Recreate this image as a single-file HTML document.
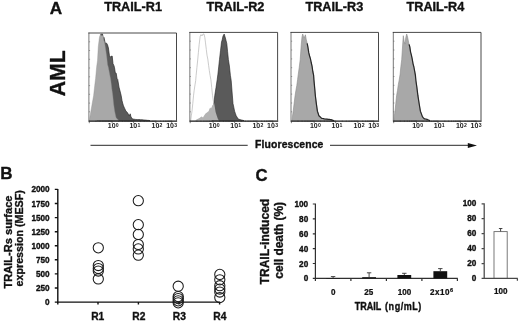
<!DOCTYPE html>
<html><head><meta charset="utf-8"><title>Figure</title>
<style>
html,body{margin:0;padding:0;background:#fff}
svg{display:block}
text{font-family:"Liberation Sans",sans-serif;fill:#111}
.b{font-weight:bold;stroke:#111;stroke-width:0.35px;stroke-linejoin:round}
.c{font-weight:bold;stroke:#111;stroke-width:0.25px}
.tk{font-size:6.3px;font-weight:bold;fill:#222}
</style></head><body>
<svg width="520" height="321" viewBox="0 0 520 321">
<rect width="520" height="321" fill="#fff"/>
<polygon points="97.0,120.6 98.0,89.6 99.0,60.6 99.9,44.6 100.8,34.0 101.7,34.2 102.5,34.0 103.2,38.3 104.0,37.4 105.2,43.2 106.6,43.2 107.5,44.8 108.4,48.0 109.4,55.5 110.8,57.4 111.5,56.0 112.2,56.1 113.0,63.8 113.8,65.3 114.5,67.6 115.3,73.0 116.2,73.2 117.0,78.4 117.7,79.4 119.0,87.2 120.0,91.0 121.1,95.3 122.0,100.5 122.6,103.0 123.3,105.3 124.0,107.1 124.9,108.9 125.8,111.0 126.7,111.7 127.5,112.8 128.4,114.3 129.4,115.9 130.2,113.8 131.0,117.0 131.8,118.0 132.5,119.0 133.2,119.1 133.9,119.2 134.6,119.3 135.3,119.4 136.0,119.5 136.8,119.5 137.5,119.6 138.2,119.6 139.0,119.6 139.8,119.6 140.5,119.7 141.2,119.7 142.0,119.7 142.7,119.8 143.5,119.9 144.2,120.0 144.9,120.0 145.6,120.1 146.4,120.2 147.1,120.3 147.8,120.4 148.5,120.4 149.3,120.5 150.0,120.6" fill="#5a5a5a" stroke="#2a2a2a" stroke-width="0.7" stroke-linejoin="round"/>
<polygon points="89.5,120.6 89.9,117.1 90.9,111.3 92.3,103.0 93.6,95.8 94.8,85.1 95.6,78.5 96.7,66.5 97.5,60.8 98.3,46.5 99.5,36.9 100.6,34.0 101.8,35.9 103.0,35.6 103.8,40.6 104.5,42.1 105.8,50.4 106.8,57.6 107.5,64.5 108.2,66.8 109.6,74.0 110.7,79.7 111.8,88.7 112.7,95.0 113.6,103.9 114.6,111.0 115.3,114.3 116.0,117.5 117.2,119.0 118.1,119.8 119.0,120.6" fill="#a8a8a8" stroke="#8f8f8f" stroke-width="0.4"/>
<path d="M88.90 120.6V32.6" fill="none" stroke="#777" stroke-width="1"/>
<path d="M88.40 33.0H176.50V120.6" fill="none" stroke="#333" stroke-width="0.9"/>
<path d="M88.5 121.1H177.1" fill="none" stroke="#161616" stroke-width="1.25"/>
<path d="M95.9 120.6v1.4M100.0 120.6v1.4M102.9 120.6v1.4M105.1 120.6v1.4M107.0 120.6v1.4M108.5 120.6v1.4M109.9 120.6v1.4M111.1 120.6v1.4M118.6 120.6v1.4M122.4 120.6v1.4M125.0 120.6v1.4M127.1 120.6v1.4M128.8 120.6v1.4M130.3 120.6v1.4M131.5 120.6v1.4M132.6 120.6v1.4M140.3 120.6v1.4M144.2 120.6v1.4M147.0 120.6v1.4M149.2 120.6v1.4M151.0 120.6v1.4M152.5 120.6v1.4M153.7 120.6v1.4M154.9 120.6v1.4M160.7 120.6v1.4M163.4 120.6v1.4M165.4 120.6v1.4M166.9 120.6v1.4M168.2 120.6v1.4M169.2 120.6v1.4M170.2 120.6v1.4M171.0 120.6v1.4M112.1 120.6v2.6M133.6 120.6v2.6M155.9 120.6v2.6M171.7 120.6v2.6M89.3 120.6v2.6" stroke="#333" stroke-width="0.6" fill="none"/>
<path d="M88.9 111.8h1.2M88.9 103.1h1.2M88.9 94.3h1.2M88.9 85.6h1.2M88.9 76.8h1.2M88.9 68.0h1.2M88.9 59.3h1.2M88.9 50.5h1.2M88.9 41.8h1.2" stroke="#555" stroke-width="0.5" fill="none"/>
<text transform="translate(107.8 127.8) scale(1.12 1)" class="tk">10<tspan dy="-1.0" dx="0.2" font-size="4.6">0</tspan></text>
<text transform="translate(129.4 127.8) scale(1.12 1)" class="tk">10<tspan dy="-1.0" dx="0.2" font-size="4.6">1</tspan></text>
<text transform="translate(151.5 127.8) scale(1.12 1)" class="tk">10<tspan dy="-1.0" dx="0.2" font-size="4.6">2</tspan></text>
<text transform="translate(166.2 127.8) scale(1.12 1)" class="tk">10<tspan dy="-1.0" dx="0.2" font-size="4.6">3</tspan></text>
<polygon points="212.0,120.6 213.0,112.1 213.8,104.3 214.8,95.3 216.0,87.6 217.2,79.6 217.9,74.2 218.7,66.9 219.5,59.4 220.5,50.7 221.5,42.1 222.2,39.8 223.0,36.1 224.2,34.0 225.4,38.0 226.1,40.7 226.8,43.6 227.6,51.7 228.4,59.6 229.4,66.0 230.4,75.4 231.2,80.5 232.4,96.0 233.0,103.6 233.8,107.2 234.6,111.2 235.4,113.4 236.2,115.8 237.2,117.3 238.2,119.0 239.1,119.3 240.0,119.6 240.8,119.8 241.6,120.0 242.4,120.2 243.2,120.4 244.0,120.6" fill="#5a5a5a" stroke="#222" stroke-width="0.6" stroke-linejoin="round"/>
<polygon points="194.6,120.6 195.4,120.2 196.2,119.7 197.0,119.3 198.0,118.8 199.0,118.3 199.9,117.7 200.7,117.1 201.6,116.4 202.3,117.1 203.0,117.5 203.8,116.1 204.5,115.0 205.3,113.8 206.2,113.0 207.0,112.6 207.8,111.7 208.6,111.3 209.4,109.0 210.2,107.6 211.0,108.4 211.8,106.7 212.5,104.9 213.2,104.7 214.0,102.1 214.8,107.1 215.6,111.9 216.8,115.8 217.9,119.1 219.0,120.6" fill="#b3b3b3"/>
<polyline points="190.7,120.6 191.3,115.9 192.0,111.1 192.8,103.3 193.5,95.9 194.2,90.2 195.0,84.8 195.7,80.5 196.1,75.6 196.9,67.7 197.7,60.0 198.4,52.3 199.2,44.3 200.2,36.1 201.0,34.6 202.0,36.0 203.0,34.0 204.0,34.0 204.8,37.3 205.5,42.9 206.3,49.4 207.0,55.2 207.8,59.1 208.6,65.3 209.3,70.5 210.1,75.5 210.9,79.8 211.7,87.4 212.5,95.3 213.5,101.8" fill="none" stroke="#b5b5b5" stroke-width="0.7"/>
<path d="M189.85 120.6V32.0" fill="none" stroke="#777" stroke-width="1"/>
<path d="M189.35 32.4H277.60V120.6" fill="none" stroke="#333" stroke-width="0.9"/>
<path d="M189.4 121.1H278.2" fill="none" stroke="#161616" stroke-width="1.25"/>
<path d="M196.9 120.6v1.4M200.9 120.6v1.4M203.9 120.6v1.4M206.1 120.6v1.4M207.9 120.6v1.4M209.5 120.6v1.4M210.9 120.6v1.4M212.0 120.6v1.4M219.6 120.6v1.4M223.4 120.6v1.4M226.0 120.6v1.4M228.1 120.6v1.4M229.8 120.6v1.4M231.3 120.6v1.4M232.5 120.6v1.4M233.6 120.6v1.4M241.3 120.6v1.4M245.3 120.6v1.4M248.1 120.6v1.4M250.2 120.6v1.4M252.0 120.6v1.4M253.5 120.6v1.4M254.8 120.6v1.4M256.0 120.6v1.4M261.7 120.6v1.4M264.5 120.6v1.4M266.5 120.6v1.4M268.0 120.6v1.4M269.3 120.6v1.4M270.3 120.6v1.4M271.2 120.6v1.4M272.1 120.6v1.4M213.1 120.6v2.6M234.6 120.6v2.6M257.0 120.6v2.6M272.8 120.6v2.6M190.2 120.6v2.6" stroke="#333" stroke-width="0.6" fill="none"/>
<path d="M189.8 111.8h1.2M189.8 103.0h1.2M189.8 94.1h1.2M189.8 85.3h1.2M189.8 76.5h1.2M189.8 67.7h1.2M189.8 58.9h1.2M189.8 50.0h1.2M189.8 41.2h1.2" stroke="#555" stroke-width="0.5" fill="none"/>
<text transform="translate(208.8 127.8) scale(1.12 1)" class="tk">10<tspan dy="-1.0" dx="0.2" font-size="4.6">0</tspan></text>
<text transform="translate(230.3 127.8) scale(1.12 1)" class="tk">10<tspan dy="-1.0" dx="0.2" font-size="4.6">1</tspan></text>
<text transform="translate(252.4 127.8) scale(1.12 1)" class="tk">10<tspan dy="-1.0" dx="0.2" font-size="4.6">2</tspan></text>
<text transform="translate(267.1 127.8) scale(1.12 1)" class="tk">10<tspan dy="-1.0" dx="0.2" font-size="4.6">3</tspan></text>
<polygon points="292.0,120.6 292.5,116.0 293.2,111.3 294.1,103.6 295.1,95.6 295.9,90.5 296.8,85.5 297.6,79.5 298.2,74.9 299.2,67.6 300.2,59.7 301.3,44.2 302.0,36.9 302.7,34.0 303.6,36.7 304.3,37.6 305.4,34.8 306.2,39.2 307.2,43.4 307.9,47.6 308.7,52.9 309.5,56.0 310.4,58.6 311.2,62.5 312.0,66.4 312.8,71.5 313.5,75.1 313.9,79.6 314.6,88.1 315.3,96.0 316.4,104.1 317.4,111.2 318.1,113.5 318.9,115.7 319.7,116.5 320.5,117.4 321.3,118.2 322.0,118.4 322.8,118.5 323.5,118.7 324.3,118.9 325.0,119.0 325.7,119.1 326.4,119.1 327.1,119.2 327.9,119.3 328.6,119.4 329.3,119.4 330.0,119.5 330.8,119.7 331.6,119.9 332.4,120.2 333.2,120.4 334.0,120.6" fill="#a8a8a8" stroke="#8a8a8a" stroke-width="0.6"/>
<polyline points="307.2,43.4 308.0,47.6 308.8,52.9 309.6,56.0 310.4,58.6 311.2,62.5 312.1,66.4 312.8,71.5 313.6,75.1 313.9,79.6 314.7,88.1 315.4,96.0 316.4,104.1 317.4,111.2 318.2,113.5 318.9,115.7 319.8,116.5 320.6,117.4 321.4,118.2 322.1,118.4 322.8,118.5 323.6,118.7 324.3,118.9 325.1,119.0 325.8,119.1 326.5,119.1 327.2,119.2 327.9,119.3 328.6,119.4 329.3,119.4 330.1,119.5 330.9,119.7 331.7,119.9 332.4,120.2 333.2,120.4 334.1,120.6" fill="none" stroke="#262626" stroke-width="1.2" stroke-linejoin="round"/>
<path d="M291.00 120.6V32.0" fill="none" stroke="#777" stroke-width="1"/>
<path d="M290.50 32.4H378.50V120.6" fill="none" stroke="#333" stroke-width="0.9"/>
<path d="M290.6 121.1H379.1" fill="none" stroke="#161616" stroke-width="1.25"/>
<path d="M298.0 120.6v1.4M302.1 120.6v1.4M305.0 120.6v1.4M307.2 120.6v1.4M309.0 120.6v1.4M310.6 120.6v1.4M311.9 120.6v1.4M313.1 120.6v1.4M320.6 120.6v1.4M324.4 120.6v1.4M327.1 120.6v1.4M329.2 120.6v1.4M330.9 120.6v1.4M332.3 120.6v1.4M333.5 120.6v1.4M334.6 120.6v1.4M342.3 120.6v1.4M346.3 120.6v1.4M349.1 120.6v1.4M351.2 120.6v1.4M353.0 120.6v1.4M354.5 120.6v1.4M355.8 120.6v1.4M356.9 120.6v1.4M362.7 120.6v1.4M365.5 120.6v1.4M367.4 120.6v1.4M368.9 120.6v1.4M370.2 120.6v1.4M371.2 120.6v1.4M372.2 120.6v1.4M373.0 120.6v1.4M314.2 120.6v2.6M335.6 120.6v2.6M357.9 120.6v2.6M373.7 120.6v2.6M291.4 120.6v2.6" stroke="#333" stroke-width="0.6" fill="none"/>
<path d="M291.0 111.8h1.2M291.0 103.0h1.2M291.0 94.1h1.2M291.0 85.3h1.2M291.0 76.5h1.2M291.0 67.7h1.2M291.0 58.9h1.2M291.0 50.0h1.2M291.0 41.2h1.2" stroke="#555" stroke-width="0.5" fill="none"/>
<text transform="translate(309.9 127.8) scale(1.12 1)" class="tk">10<tspan dy="-1.0" dx="0.2" font-size="4.6">0</tspan></text>
<text transform="translate(331.5 127.8) scale(1.12 1)" class="tk">10<tspan dy="-1.0" dx="0.2" font-size="4.6">1</tspan></text>
<text transform="translate(353.6 127.8) scale(1.12 1)" class="tk">10<tspan dy="-1.0" dx="0.2" font-size="4.6">2</tspan></text>
<text transform="translate(368.3 127.8) scale(1.12 1)" class="tk">10<tspan dy="-1.0" dx="0.2" font-size="4.6">3</tspan></text>
<polygon points="393.9,120.6 394.3,116.0 395.0,111.3 395.8,103.4 396.6,95.6 397.5,90.4 398.3,84.7 399.2,79.9 400.1,74.3 400.9,66.2 401.7,59.8 402.8,42.8 403.3,35.7 404.2,41.5 405.0,44.1 405.8,37.6 406.7,34.0 407.6,37.1 409.0,44.3 409.8,46.9 410.5,52.1 411.3,55.1 412.1,58.8 413.0,63.6 413.8,67.0 414.6,70.9 415.3,75.1 415.8,80.5 416.9,87.7 417.9,95.7 419.2,104.0 420.4,111.2 421.4,113.9 422.3,116.6 423.1,117.6 424.0,118.6 424.8,118.8 425.5,119.0 426.2,119.2 427.0,119.4 427.8,119.7 428.5,120.0 429.2,120.3 430.0,120.6" fill="#a8a8a8" stroke="#8a8a8a" stroke-width="0.6"/>
<polyline points="409.1,44.3 409.8,46.9 410.6,52.1 411.4,55.1 412.2,58.8 413.0,63.6 413.9,67.0 414.6,70.9 415.4,75.1 415.9,80.5 416.9,87.7 417.9,95.7 419.2,104.0 420.4,111.2 421.4,113.9 422.4,116.6 423.2,117.6 424.1,118.6 424.8,118.8 425.6,119.0 426.3,119.2 427.1,119.4 427.8,119.7 428.6,120.0 429.3,120.3 430.1,120.6" fill="none" stroke="#262626" stroke-width="1.2" stroke-linejoin="round"/>
<path d="M393.30 120.6V32.0" fill="none" stroke="#777" stroke-width="1"/>
<path d="M392.80 32.4H481.00V120.6" fill="none" stroke="#333" stroke-width="0.9"/>
<path d="M392.9 121.1H481.6" fill="none" stroke="#161616" stroke-width="1.25"/>
<path d="M400.3 120.6v1.4M404.4 120.6v1.4M407.3 120.6v1.4M409.5 120.6v1.4M411.4 120.6v1.4M412.9 120.6v1.4M414.3 120.6v1.4M415.5 120.6v1.4M423.0 120.6v1.4M426.8 120.6v1.4M429.5 120.6v1.4M431.6 120.6v1.4M433.3 120.6v1.4M434.7 120.6v1.4M435.9 120.6v1.4M437.0 120.6v1.4M444.8 120.6v1.4M448.7 120.6v1.4M451.5 120.6v1.4M453.7 120.6v1.4M455.4 120.6v1.4M456.9 120.6v1.4M458.2 120.6v1.4M459.4 120.6v1.4M465.1 120.6v1.4M467.9 120.6v1.4M469.9 120.6v1.4M471.4 120.6v1.4M472.7 120.6v1.4M473.7 120.6v1.4M474.6 120.6v1.4M475.5 120.6v1.4M416.5 120.6v2.6M438.0 120.6v2.6M460.4 120.6v2.6M476.2 120.6v2.6M393.7 120.6v2.6" stroke="#333" stroke-width="0.6" fill="none"/>
<path d="M393.3 111.8h1.2M393.3 103.0h1.2M393.3 94.1h1.2M393.3 85.3h1.2M393.3 76.5h1.2M393.3 67.7h1.2M393.3 58.9h1.2M393.3 50.0h1.2M393.3 41.2h1.2" stroke="#555" stroke-width="0.5" fill="none"/>
<text transform="translate(412.2 127.8) scale(1.12 1)" class="tk">10<tspan dy="-1.0" dx="0.2" font-size="4.6">0</tspan></text>
<text transform="translate(433.8 127.8) scale(1.12 1)" class="tk">10<tspan dy="-1.0" dx="0.2" font-size="4.6">1</tspan></text>
<text transform="translate(455.9 127.8) scale(1.12 1)" class="tk">10<tspan dy="-1.0" dx="0.2" font-size="4.6">2</tspan></text>
<text transform="translate(470.6 127.8) scale(1.12 1)" class="tk">10<tspan dy="-1.0" dx="0.2" font-size="4.6">3</tspan></text>
<text x="49.8" y="14.0" class="b" font-size="17.2">A</text>
<text x="133.1" y="10.6" class="b" font-size="12.7" text-anchor="middle">TRAIL-R1</text>
<text x="235.5" y="10.6" class="b" font-size="12.7" text-anchor="middle">TRAIL-R2</text>
<text x="334.3" y="10.6" class="b" font-size="12.7" text-anchor="middle">TRAIL-R3</text>
<text x="435.4" y="10.6" class="b" font-size="12.7" text-anchor="middle">TRAIL-R4</text>
<text transform="translate(65.3 73.2) rotate(-90)" class="b" font-size="21.3" text-anchor="middle">AML</text>
<path d="M90.5 145.3H247.7M330 145.3H470" stroke="#111" stroke-width="0.9" fill="none"/>
<path d="M477 145.5L467.8 142.9V148.1Z" fill="#111"/>
<text x="289.3" y="148.1" class="b" font-size="10.4" letter-spacing="0.12" text-anchor="middle">Fluorescence</text>
<text x="0.3" y="179.1" class="b" font-size="17">B</text>
<path d="M57.8 189.0V302.1H220M57.8 302.1h-3M57.8 288.0h-3M57.8 273.9h-3M57.8 259.8h-3M57.8 245.8h-3M57.8 231.7h-3M57.8 217.6h-3M57.8 203.5h-3M57.8 189.4h-3M57.8 302.1v2.4M98.0 302.1v2.4M138.4 302.1v2.4M179.0 302.1v2.4M219.6 302.1v2.4" stroke="#111" stroke-width="1.4" fill="none"/>
<text x="49.6" y="305.1" class="b" font-size="8.2" text-anchor="end">0</text>
<text x="49.6" y="291.0" class="b" font-size="8.2" text-anchor="end">250</text>
<text x="49.6" y="276.9" class="b" font-size="8.2" text-anchor="end">500</text>
<text x="49.6" y="262.8" class="b" font-size="8.2" text-anchor="end">750</text>
<text x="49.6" y="248.8" class="b" font-size="8.2" text-anchor="end">1000</text>
<text x="49.6" y="234.7" class="b" font-size="8.2" text-anchor="end">1250</text>
<text x="49.6" y="220.6" class="b" font-size="8.2" text-anchor="end">1500</text>
<text x="49.6" y="206.5" class="b" font-size="8.2" text-anchor="end">1750</text>
<text x="49.6" y="192.4" class="b" font-size="8.2" text-anchor="end">2000</text>
<circle cx="98.3" cy="247.8" r="5.1" fill="none" stroke="#1c1c1c" stroke-width="1.05"/>
<circle cx="98.3" cy="265.5" r="5.1" fill="none" stroke="#1c1c1c" stroke-width="1.05"/>
<circle cx="98.3" cy="268.5" r="5.1" fill="none" stroke="#1c1c1c" stroke-width="1.05"/>
<circle cx="98.3" cy="271.0" r="5.1" fill="none" stroke="#1c1c1c" stroke-width="1.05"/>
<circle cx="98.3" cy="278.9" r="5.1" fill="none" stroke="#1c1c1c" stroke-width="1.05"/>
<circle cx="138.3" cy="200.7" r="5.1" fill="none" stroke="#1c1c1c" stroke-width="1.05"/>
<circle cx="138.3" cy="224.7" r="5.1" fill="none" stroke="#1c1c1c" stroke-width="1.05"/>
<circle cx="138.3" cy="234.4" r="5.1" fill="none" stroke="#1c1c1c" stroke-width="1.05"/>
<circle cx="138.3" cy="244.5" r="5.1" fill="none" stroke="#1c1c1c" stroke-width="1.05"/>
<circle cx="138.3" cy="248.9" r="5.1" fill="none" stroke="#1c1c1c" stroke-width="1.05"/>
<circle cx="138.3" cy="255.2" r="5.1" fill="none" stroke="#1c1c1c" stroke-width="1.05"/>
<circle cx="178.2" cy="286.2" r="5.1" fill="none" stroke="#1c1c1c" stroke-width="1.05"/>
<circle cx="178.2" cy="296.6" r="5.1" fill="none" stroke="#1c1c1c" stroke-width="1.05"/>
<circle cx="178.2" cy="298.6" r="5.1" fill="none" stroke="#1c1c1c" stroke-width="1.05"/>
<circle cx="178.2" cy="300.8" r="5.1" fill="none" stroke="#1c1c1c" stroke-width="1.05"/>
<circle cx="178.2" cy="302.8" r="5.1" fill="none" stroke="#1c1c1c" stroke-width="1.05"/>
<circle cx="219.8" cy="274.4" r="5.1" fill="none" stroke="#1c1c1c" stroke-width="1.05"/>
<circle cx="219.8" cy="279.8" r="5.1" fill="none" stroke="#1c1c1c" stroke-width="1.05"/>
<circle cx="219.8" cy="285.7" r="5.1" fill="none" stroke="#1c1c1c" stroke-width="1.05"/>
<circle cx="219.8" cy="289.0" r="5.1" fill="none" stroke="#1c1c1c" stroke-width="1.05"/>
<circle cx="219.8" cy="292.0" r="5.1" fill="none" stroke="#1c1c1c" stroke-width="1.05"/>
<circle cx="219.8" cy="297.5" r="5.1" fill="none" stroke="#1c1c1c" stroke-width="1.05"/>
<text transform="translate(97.7 320.0) scale(0.96 1)" class="b" font-size="10.7" text-anchor="middle">R1</text>
<text transform="translate(138.8 320.0) scale(0.96 1)" class="b" font-size="10.7" text-anchor="middle">R2</text>
<text transform="translate(179.4 320.0) scale(0.96 1)" class="b" font-size="10.7" text-anchor="middle">R3</text>
<text transform="translate(219.8 320.0) scale(0.96 1)" class="b" font-size="10.7" text-anchor="middle">R4</text>
<text transform="translate(11.6 242) rotate(-90)" class="b" font-size="11.1" text-anchor="middle">TRAIL-Rs surface</text>
<text transform="translate(23.3 238.3) rotate(-90)" class="b" font-size="10.7" text-anchor="middle">expression (MESF)</text>
<text x="255.4" y="180.9" class="b" font-size="16.7">C</text>
<path d="M315.4 203.4V278.4H457.8M315.4 278.4h-2.6M315.4 263.5h-2.6M315.4 248.6h-2.6M315.4 233.8h-2.6M315.4 218.9h-2.6M315.4 204.0h-2.6M315.4 278.4v2.6M350.9 278.4v2.6M386.4 278.4v2.6M421.9 278.4v2.6M457.4 278.4v2.6" stroke="#303030" stroke-width="1.2" fill="none"/>
<text x="308.2" y="281" class="b" font-size="8.2" text-anchor="end">0</text>
<text x="308.2" y="267" class="b" font-size="8.2" text-anchor="end">20</text>
<text x="308.2" y="252" class="b" font-size="8.2" text-anchor="end">40</text>
<text x="308.2" y="237" class="b" font-size="8.2" text-anchor="end">60</text>
<text x="308.2" y="222" class="b" font-size="8.2" text-anchor="end">80</text>
<text x="308.2" y="207" class="b" font-size="8.2" text-anchor="end">100</text>
<rect x="326.2" y="278.0" width="13.8" height="0.4" fill="#111"/>
<path d="M333.1 278.0V276.6M330.9 276.6h4.4" stroke="#333" stroke-width="0.9" fill="none"/>
<rect x="362.2" y="277.2" width="13.8" height="1.2" fill="#111"/>
<path d="M369.1 277.2V272.8M366.9 272.8h4.4" stroke="#333" stroke-width="0.9" fill="none"/>
<rect x="397.4" y="275.0" width="13.8" height="3.4" fill="#111"/>
<path d="M404.3 275.0V273.3M402.1 273.3h4.4" stroke="#333" stroke-width="0.9" fill="none"/>
<rect x="433.4" y="271.2" width="13.8" height="7.2" fill="#111"/>
<path d="M440.3 271.2V268.6M438.1 268.6h4.4" stroke="#333" stroke-width="0.9" fill="none"/>
<text transform="translate(333.3 294.5) scale(0.93 1)" class="c" font-size="8.7" text-anchor="middle">0</text>
<text transform="translate(368.8 294.5) scale(0.93 1)" class="c" font-size="8.7" text-anchor="middle">25</text>
<text transform="translate(404.6 294.5) scale(0.93 1)" class="c" font-size="8.7" text-anchor="middle">100</text>
<text transform="translate(430 294.5) scale(0.93 1)" class="c" font-size="8.7" letter-spacing="0.5">2x10<tspan dy="-2.2" dx="0.3" font-size="5.8">6</tspan></text>
<text transform="translate(354.8 310.2) scale(0.885 1)" class="b" font-size="10.2">TRAIL <tspan x="34.2" letter-spacing="0.6">(ng/mL)</tspan></text>
<text transform="translate(268.5 241.6) rotate(-90)" class="b" font-size="12.05" text-anchor="middle">TRAIL-induced</text>
<text transform="translate(283.3 240.4) rotate(-90)" class="b" font-size="11.9" text-anchor="middle">cell death (%)</text>
<rect x="494" y="231.6" width="13.2" height="46.8" fill="#fff" stroke="#6a6a6a" stroke-width="0.9"/>
<path d="M500.6 231.4V228.4M498.9 228.5h3.5" stroke="#333" stroke-width="0.9" fill="none"/>
<path d="M484.2 203.2V278.4H517.8M484.2 278.4h-2.6M484.2 263.5h-2.6M484.2 248.6h-2.6M484.2 233.6h-2.6M484.2 218.7h-2.6M484.2 203.8h-2.6M517.4 278.4v2.4" stroke="#484848" stroke-width="1.25" fill="none"/>
<text x="476.3" y="280.7" class="b" font-size="8.2" text-anchor="end">0</text>
<text x="476.3" y="265.8" class="b" font-size="8.2" text-anchor="end">20</text>
<text x="476.3" y="250.9" class="b" font-size="8.2" text-anchor="end">40</text>
<text x="476.3" y="235.9" class="b" font-size="8.2" text-anchor="end">60</text>
<text x="476.3" y="221.0" class="b" font-size="8.2" text-anchor="end">80</text>
<text x="476.3" y="206.1" class="b" font-size="8.2" text-anchor="end">100</text>
<text transform="translate(500.8 293.8) scale(0.93 1)" class="c" font-size="8.7" text-anchor="middle">100</text>
</svg>
</body></html>
